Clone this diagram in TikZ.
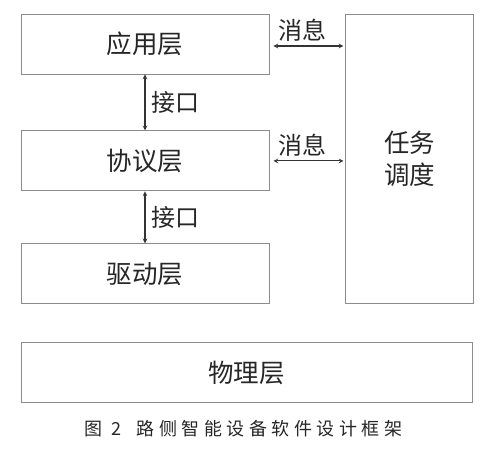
\documentclass[tikz,border=0pt]{standalone}
\usepackage{fontspec}
\setmainfont{Noto Sans CJK SC}
\usepackage{tikz}
\usetikzlibrary{positioning}
\usepackage{xcolor}

\begin{document}
\begin{tikzpicture}[
  x=1pt, y=1pt,
  node distance=56pt and 76pt,
  layer/.style={draw=black!45, line width=0.9pt, minimum width=248pt, minimum height=60pt, align=center, font=\fontsize{25.5}{28}\selectfont, text=black!85},
  arr/.style={<->, line width=1.1pt, draw=black!80, >=stealth},
  lbl/.style={font=\fontsize{24}{26}\selectfont, text=black!85}
]
\useasboundingbox (0,0) rectangle (489,-452);

% Left column
\node[layer] (app) at (145,-44) {应用层};
\node[layer, below=of app] (proto) {协议层};
\node[layer, below=52pt of proto] (drv) {驱动层};

% Right column
\node[layer, right=76pt of app.north east, anchor=north west, minimum width=128pt, minimum height=289pt] (task) {任务\\[4pt]调度};

% Bottom row
\node[layer, below=38pt of drv.south west, anchor=north west, minimum width=451pt] (phys) {物理层};

% Arrows
\draw[arr] (app.south) -- node[lbl, right=3pt] {接口} (proto.north);
\draw[arr] (proto.south) -- node[lbl, right=3pt] {接口} (drv.north);
\draw[arr, shorten <=4pt, shorten >=2pt] ([yshift=-2pt]app.east) -- node[lbl, above=1pt, xshift=-5pt] {消息} ([yshift=-2pt]app.east -| task.west);
\draw[arr, shorten <=4pt, shorten >=2pt] (proto.east) -- node[lbl, above=1pt, xshift=-5pt] {消息} (proto.east -| task.west);

% Caption
\node[below=14pt of phys, xshift=-3pt, font=\fontsize{18}{20}\selectfont\addfontfeatures{LetterSpace=25}, text=black!85] (cap) {图 2\hspace{16pt}路侧智能设备软件设计框架};
\end{tikzpicture}
\end{document}
